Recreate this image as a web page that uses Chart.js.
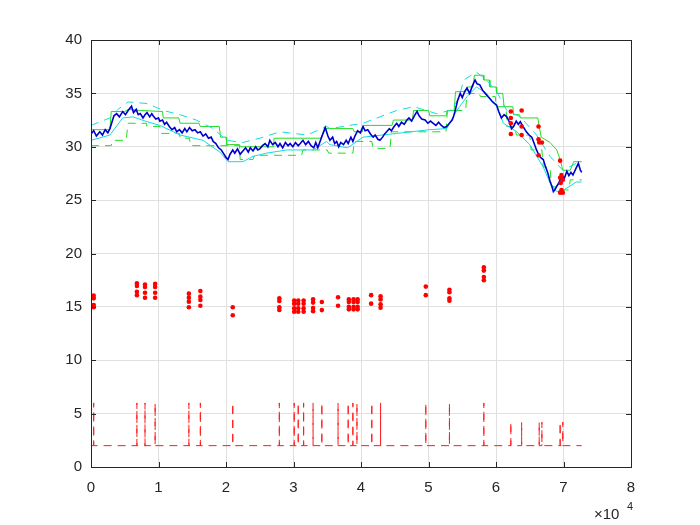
<!DOCTYPE html>
<html lang="en">
<head>
  <meta charset="UTF-8">
  <title>Signal chart</title>
  <script src="https://cdn.jsdelivr.net/npm/chart.js"></script>
  <style>
    body { margin: 0; background: white; }
    #wrap { width: 700px; height: 525px; }
  </style>
</head>
<body>
  <div id="wrap">
    <canvas id="chart" width="700" height="525"></canvas>
  </div>

  <script>
    // x values are in units of 10^4 (as on the axis)
    const xTicks = [0, 1, 2, 3, 4, 5, 6, 7, 8];
    const yTicks = [0, 5, 10, 15, 20, 25, 30, 35, 40];

    const priceX = [0.00,0.04,0.08,0.13,0.17,0.21,0.25,0.28,0.31,0.34,0.38,0.42,0.47,0.51,0.55,0.60,0.63,0.67,0.70,0.73,
      0.77,0.80,0.83,0.87,0.90,0.92,0.96,1.00,1.02,1.06,1.09,1.12,1.16,1.20,1.24,1.27,1.31,1.35,1.39,1.42,
      1.46,1.50,1.54,1.58,1.62,1.66,1.70,1.74,1.78,1.81,1.85,1.89,1.93,1.96,2.00,2.03,2.06,2.10,2.13,2.17,
      2.21,2.25,2.29,2.33,2.36,2.40,2.44,2.47,2.50,2.54,2.58,2.62,2.65,2.69,2.73,2.77,2.80,2.84,2.88,2.92,
      2.95,2.99,3.03,3.07,3.10,3.14,3.18,3.22,3.26,3.30,3.33,3.36,3.40,3.44,3.47,3.51,3.54,3.58,3.61,3.64,
      3.67,3.70,3.74,3.78,3.81,3.85,3.88,3.91,3.95,3.99,4.03,4.06,4.10,4.14,4.18,4.21,4.25,4.28,4.32,4.35,
      4.38,4.42,4.45,4.49,4.53,4.56,4.60,4.64,4.68,4.71,4.75,4.79,4.83,4.86,4.90,4.95,4.99,5.03,5.07,5.11,
      5.15,5.19,5.23,5.27,5.31,5.35,5.37,5.40,5.43,5.47,5.50,5.54,5.57,5.61,5.65,5.69,5.72,5.76,5.80,5.84,
      5.88,5.91,5.95,6.01,6.04,6.08,6.12,6.16,6.20,6.23,6.26,6.30,6.33,6.36,6.40,6.43,6.45,6.49,6.53,6.56,
      6.60,6.63,6.66,6.70,6.73,6.77,6.80,6.83,6.85,6.87,6.90,6.93,6.95,6.98,7.01,7.05,7.08,7.11,7.14,7.18,
      7.22,7.25,7.27];
    const priceY = [31.2,31.5,31.0,31.4,31.1,31.6,31.3,31.7,32.3,32.9,33.1,32.8,33.3,33.0,33.4,33.8,33.2,33.5,33.0,33.1,
      32.7,33.0,33.2,32.8,33.1,32.9,32.6,32.7,32.4,32.5,32.1,32.3,31.9,31.6,31.8,31.4,31.6,31.3,31.7,31.4,
      31.8,31.5,31.6,31.3,31.4,31.0,31.2,30.8,30.9,30.5,30.3,29.9,29.7,29.4,29.0,28.8,29.3,29.7,29.4,29.8,
      29.3,29.6,29.9,29.5,29.9,29.6,30.0,29.7,29.8,30.1,30.3,30.0,30.6,30.2,30.4,30.0,30.3,29.9,30.4,30.1,
      30.3,30.0,30.4,30.1,30.3,30.6,30.2,30.5,30.1,29.9,30.4,29.9,30.6,31.3,31.8,31.0,30.6,30.9,30.3,30.5,
      30.0,30.4,30.2,30.6,30.3,30.9,30.5,31.0,31.5,31.3,31.9,31.5,31.6,31.2,30.9,31.1,30.7,30.6,30.9,31.2,
      31.4,31.7,31.5,31.9,32.2,31.9,32.3,32.1,32.5,32.7,32.4,32.9,33.3,32.9,32.6,32.5,32.2,32.4,32.2,32.0,
      32.3,32.0,31.8,31.9,32.2,32.5,32.8,33.5,34.3,35.0,34.6,35.2,35.5,35.0,35.7,36.25,35.9,35.8,35.3,35.0,
      34.7,34.5,34.2,33.9,33.3,32.7,33.0,32.8,32.3,31.7,31.9,32.4,32.1,32.35,31.9,31.6,31.4,31.1,30.9,30.4,
      29.7,29.3,29.0,28.8,28.2,27.5,26.8,26.25,25.8,25.95,26.3,26.6,26.9,27.3,27.0,27.7,27.3,27.6,27.35,27.9,
      28.45,27.8,27.6];

    const greenUpX = [0.00,0.28,0.30,0.50,0.55,0.73,1.06,1.07,1.30,1.32,1.60,1.62,1.90,1.92,2.00,2.01,2.20,2.21,2.70,2.71,
      3.40,3.48,3.88,3.90,4.02,4.04,4.46,4.48,4.76,4.78,5.00,5.02,5.26,5.28,5.38,5.40,5.55,5.57,5.66,5.68,
      5.81,5.82,5.90,5.91,6.00,6.01,6.10,6.12,6.25,6.26,6.35,6.36,6.62,6.64,6.67,6.80,6.90,6.95,6.99,7.10,
      7.15,7.27];
    const greenUpY = [31.6,31.6,33.3,33.3,33.5,33.4,33.3,32.7,32.7,32.2,32.2,31.9,31.9,30.9,30.9,30.2,30.2,30.0,30.0,30.8,
      30.8,31.7,31.7,31.4,31.4,32.0,32.0,32.5,32.5,33.4,33.4,32.9,32.9,33.4,33.4,35.15,35.2,35.6,35.6,36.7,
      36.7,36.25,36.25,35.6,35.6,35.0,35.0,33.75,33.75,33.0,33.0,32.7,32.7,31.9,30.9,30.4,29.7,28.8,27.8,27.8,
      28.6,28.6];

    const greenLoX = [0.00,0.30,0.32,0.52,0.55,0.82,0.83,1.02,1.04,1.31,1.32,1.46,1.47,2.20,2.21,2.40,2.42,3.12,3.14,3.50,
      3.52,3.88,3.90,4.16,4.18,4.43,4.45,5.26,5.28,5.55,5.57,5.75,5.77,5.99,6.00,6.15,6.16,6.28,6.30,6.50,
      6.52,6.68,6.70,6.80,6.82,6.88,6.90,7.08,7.10,7.27];
    const greenLoY = [30.1,30.1,30.6,30.6,32.2,32.2,31.9,31.9,31.25,31.25,30.8,30.8,30.1,30.1,28.8,28.8,29.2,29.2,29.7,29.7,
      29.4,29.4,30.5,30.5,29.85,29.85,31.4,31.4,33.4,33.4,35.0,35.0,34.7,34.7,33.75,33.75,31.9,31.9,31.1,31.1,
      29.7,29.7,28.1,28.1,26.25,26.25,25.95,25.95,26.9,26.9];

    const cyanUpX = [0.00,0.28,0.40,0.55,0.83,1.07,1.32,1.56,1.81,2.01,2.25,2.50,2.80,3.20,3.49,3.54,4.03,4.53,4.78,5.12,
      5.32,5.45,5.52,5.71,5.86,6.01,6.16,6.36,6.60,6.80,6.99,7.19,7.27];
    const cyanUpY = [32.0,32.7,33.5,34.2,34.05,33.4,33.0,32.5,31.7,30.6,30.4,30.8,31.4,31.1,31.9,31.7,32.2,33.4,33.75,33.1,
      33.4,34.5,36.25,37.0,36.25,35.15,33.4,32.8,31.1,29.1,27.8,28.45,28.5];

    const cyanLoX = [0.00,0.28,0.47,0.62,0.83,1.02,1.32,1.66,1.91,2.03,2.25,2.40,2.60,2.90,3.29,3.49,3.54,3.80,4.03,4.53,
      5.02,5.27,5.42,5.57,5.71,5.86,6.01,6.11,6.31,6.50,6.70,6.80,6.90,6.99,7.19,7.27];
    const cyanLoY = [30.6,31.1,32.7,32.8,32.35,32.0,31.1,30.6,29.5,28.6,28.6,29.1,29.4,29.7,29.7,30.5,30.2,29.9,30.9,31.25,
      31.6,31.7,33.4,34.7,35.6,35.0,33.75,32.2,31.4,30.2,28.1,26.6,25.8,25.9,26.7,26.7];

    // event markers (red dots)
    const dotX = [0.04,0.04,0.04,0.04, 0.68,0.68,0.68,0.68, 0.80,0.80,0.80,0.80, 0.95,0.95,0.95,0.95,
      1.45,1.45,1.45,1.45, 1.62,1.62,1.62,1.62, 2.10,2.10, 2.79,2.79,2.79,2.79,
      3.01,3.01,3.01,3.01, 3.07,3.07,3.07,3.07, 3.15,3.15,3.15,3.15, 3.29,3.29,3.29,3.29, 3.42,3.42, 3.66,3.66,
      3.82,3.82,3.82,3.82, 3.89,3.89,3.89,3.89, 3.95,3.95,3.95,3.95, 4.15,4.15, 4.29,4.29,4.29,4.29,
      4.96,4.96, 5.31,5.31,5.31,5.31, 5.82,5.82,5.82,5.82,
      6.22,6.22,6.22,6.22, 6.38,6.38,6.38, 6.63,6.63,6.64,6.68,6.63,
      6.95,6.97,6.95,6.99,6.96,6.97,6.95,6.99];
    const dotY = [16.05,15.8,15.18,14.96, 17.2,16.95,16.42,16.1, 17.1,16.86,16.33,15.86, 17.15,16.86,16.33,15.86,
      16.24,15.86,15.49,14.96, 16.49,15.96,15.64,15.11, 14.96,14.21, 15.8,15.55,14.96,14.71,
      15.6,15.3,14.87,14.55, 15.6,15.3,14.87,14.55, 15.6,15.3,14.87,14.55, 15.7,15.4,14.9,14.6, 15.45,14.7, 15.9,15.1,
      15.7,15.45,15.0,14.77, 15.7,15.45,15.0,14.77, 15.7,15.45,15.0,14.77, 16.1,15.3, 16.0,15.7,15.24,14.92,
      16.9,16.1, 16.6,16.37,15.8,15.58, 18.7,18.4,17.8,17.5,
      33.3,32.7,32.2,31.2, 33.4,31.9,31.1, 31.9,30.7,30.4,30.4,29.2,
      28.7,27.35,27.1,26.9,26.6,25.95,25.7,25.7];

    // bottom signal: baseline with spikes at event times
    const signalBase = 2;
    const spikeX = [0.04,0.68,0.80,0.95,1.45,1.62,2.10,2.79,3.01,3.07,3.15,3.29,3.42,3.66,3.81,3.88,3.94,4.16,4.29,
      4.96,5.31,5.82,6.22,6.38,6.64,6.68,6.95,6.99];
    const spikeTop = [6,6,6,6,6,6,6,6,6,6,6,6,6,6,6,6,6,6,6,
      6,6,6,4.2,4.2,4.2,4.2,4.2,4.2];
    const signalEnd = 7.27;

    const zip = (xs, ys) => xs.map((x, i) => ({x: x, y: ys[i]}));

    const signalPts = [{x: 0, y: signalBase}];
    spikeX.forEach((x, i) => {
      signalPts.push({x: x, y: signalBase}, {x: x, y: spikeTop[i]}, {x: x, y: signalBase});
    });
    signalPts.push({x: signalEnd, y: signalBase});

    const lineDs = (label, pts, color, dash, order, width) => ({
      label: label, data: pts, showLine: true, borderColor: color, borderWidth: width || 1,
      borderDash: dash || [], pointRadius: 0, fill: false, order: order, tension: 0
    });

    const boxPlugin = {
      id: 'box',
      afterDraw(chart) {
        const {ctx, chartArea: a, scales} = chart;
        ctx.save();
        ctx.strokeStyle = '#262626';
        ctx.lineWidth = 1;
        ctx.strokeRect(a.left + 0.5, a.top + 0.5, a.right - a.left, a.bottom - a.top);
        ctx.beginPath();
        xTicks.forEach(v => {
          const px = Math.round(scales.x.getPixelForValue(v)) + 0.5;
          ctx.moveTo(px, a.bottom); ctx.lineTo(px, a.bottom - 5);
          ctx.moveTo(px, a.top); ctx.lineTo(px, a.top + 5);
        });
        yTicks.forEach(v => {
          const py = Math.round(scales.y.getPixelForValue(v)) + 0.5;
          ctx.moveTo(a.left, py); ctx.lineTo(a.left + 5, py);
          ctx.moveTo(a.right, py); ctx.lineTo(a.right - 5, py);
        });
        ctx.stroke();
        // exponent label
        ctx.fillStyle = '#262626';
        ctx.textBaseline = 'alphabetic';
        ctx.textAlign = 'left';
        ctx.font = '15px "Liberation Sans", Arial, sans-serif';
        ctx.fillText('\u00d710', 594, 519);
        ctx.font = '11px "Liberation Sans", Arial, sans-serif';
        ctx.fillText('4', 627, 510);
        ctx.restore();
      }
    };

    new Chart(document.getElementById('chart').getContext('2d'), {
      type: 'scatter',
      data: {
        datasets: [
          lineDs('signal', signalPts, '#ff1a1a', [8, 6], 6),
          lineDs('greenUp', zip(greenUpX, greenUpY), '#22dd22', [], 5),
          lineDs('greenLo', zip(greenLoX, greenLoY), '#22dd22', [8, 6], 5),
          lineDs('cyanUp', zip(cyanUpX, cyanUpY), '#11dddd', [8, 6], 4),
          lineDs('cyanLo', zip(cyanLoX, cyanLoY), '#11dddd', [], 4),
          lineDs('price', zip(priceX, priceY), '#0000cc', [], 2, 1.6),
          { label: 'events', data: zip(dotX, dotY), showLine: false, pointRadius: 2.3,
            pointBackgroundColor: '#ff0000', pointBorderWidth: 0, order: 1 }
        ]
      },
      options: {
        responsive: false,
        animation: false,
        devicePixelRatio: 1,
        layout: { padding: { left: 0, top: 40, right: 69, bottom: 0 } },
        plugins: { legend: { display: false }, tooltip: { enabled: false } },
        scales: {
          x: {
            type: 'linear', min: 0, max: 8,
            afterFit: s => { s.height = 58; },
            afterBuildTicks: s => { s.ticks = xTicks.map(v => ({value: v})); },
            grid: { color: '#e0e0e0', drawTicks: false },
            border: { color: '#262626' },
            ticks: { padding: 12, color: '#262626', font: { size: 15, family: '"Liberation Sans", Arial, sans-serif' } }
          },
          y: {
            min: 0, max: 40,
            afterFit: s => { s.width = 91; },
            afterBuildTicks: s => { s.ticks = yTicks.map(v => ({value: v})); },
            grid: { color: '#e0e0e0', drawTicks: false },
            border: { color: '#262626' },
            ticks: { padding: 9, color: '#262626', font: { size: 15, family: '"Liberation Sans", Arial, sans-serif' } }
          }
        }
      },
      plugins: [boxPlugin]
    });
  </script>
</body>
</html>
